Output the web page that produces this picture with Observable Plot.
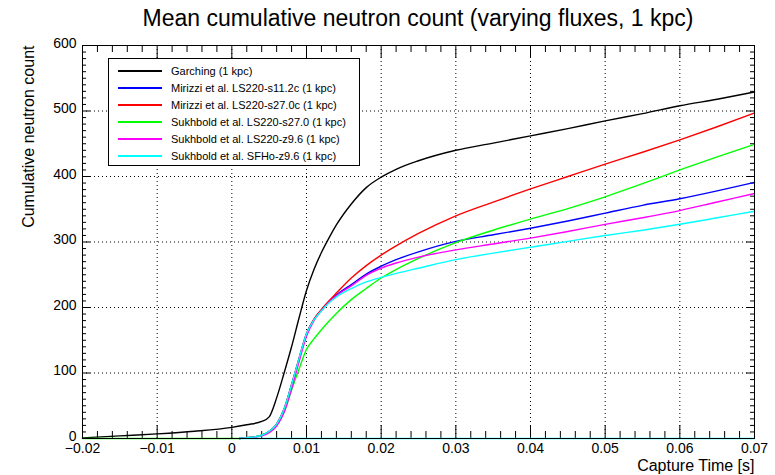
<!DOCTYPE html>
<html>
<head>
<meta charset="utf-8">
<script src="https://cdn.jsdelivr.net/npm/d3@7"></script>
<script src="https://cdn.jsdelivr.net/npm/@observablehq/plot@0.6"></script>
<style>
  body { margin: 0; background: #fff; font-family: "Liberation Sans", Arial, sans-serif; }
  #wrap { position: relative; width: 775px; height: 475px; background: #fff; }
  #title { height: 38px; position: relative; }
  #title span { position: absolute; left: 418px; top: 5px; transform: translateX(-50%); white-space: nowrap; font-size: 23px; line-height: 26px; color: #000; }
  #legend { position: absolute; left: 108px; top: 58px; width: 250px; height: 103px; border: 1px solid #000; background: #fff; padding-top: 3px; box-sizing: content-box; }
  .row { height: 17px; display: flex; align-items: center; font-size: 11px; color: #000; white-space: nowrap; }
  .sw { flex: none; width: 44px; height: 2px; margin-left: 9px; margin-right: 9px; }
</style>
</head>
<body>
<div id="wrap">
  <div id="title"><span>Mean cumulative neutron count (varying fluxes, 1 kpc)</span></div>
  <div id="chart"></div>
  <div id="legend"></div>
</div>
<script>
// ---- data ----
const seriesNames = [
  "Garching (1 kpc)",
  "Mirizzi et al. LS220-s11.2c (1 kpc)",
  "Mirizzi et al. LS220-s27.0c (1 kpc)",
  "Sukhbold et al. LS220-s27.0 (1 kpc)",
  "Sukhbold et al. LS220-z9.6 (1 kpc)",
  "Sukhbold et al. SFHo-z9.6 (1 kpc)"
];

// Garching sample times [s] and counts
const garchingTime = [-0.02, -0.015, -0.01, -0.005, 0, 0.002, 0.004, 0.005, 0.006, 0.007, 0.008, 0.009, 0.010, 0.011, 0.012, 0.013, 0.014, 0.016, 0.018, 0.020, 0.022, 0.025, 0.030, 0.035, 0.040, 0.045, 0.050, 0.055, 0.060, 0.065, 0.070];
const garchingCount = [1, 4, 7, 11, 17, 21, 26, 33, 62, 100, 140, 184, 226, 258, 284, 306, 326, 358, 383, 399, 411, 424, 440, 451, 462, 473, 485, 496, 508, 518, 529];

// shared sample times for the other models
const modelTime = [0.001, 0.002, 0.004, 0.005, 0.006, 0.007, 0.008, 0.009, 0.010, 0.011, 0.012, 0.013, 0.014, 0.016, 0.018, 0.020, 0.022, 0.025, 0.030, 0.035, 0.040, 0.045, 0.050, 0.055, 0.060, 0.065, 0.070];
const mirizziS112Count = [0, 1, 5, 11, 22, 45, 82, 122, 160, 182, 196, 209, 219, 235, 251, 263, 273, 285, 301, 311, 321, 332, 344, 356, 366, 378, 391];
const mirizziS270Count = [0, 1, 5, 11, 22, 45, 82, 122, 160, 182, 197, 210, 222, 245, 264, 280, 294, 313, 340, 361, 381, 400, 419, 437, 456, 476, 497];
const sukhboldS270Count = [0, 1, 5, 11, 20, 40, 74, 106, 136, 152, 166, 179, 191, 212, 229, 245, 258, 275, 299, 318, 335, 351, 369, 389, 410, 430, 449];
const sukhboldZ96Count = [0, 1, 4, 9, 19, 40, 76, 117, 156, 180, 195, 208, 218, 233, 249, 260, 268, 277, 288, 297, 306, 316, 327, 337, 348, 361, 374];
const sukhboldSFHoCount = [0, 1, 5, 11, 22, 45, 82, 122, 160, 181, 195, 207, 216, 229, 239, 246, 252, 260, 273, 283, 292, 301, 310, 318, 327, 337, 347];

// zero-count stretches drawn along the x axis
const sukhboldS270ZeroTime = [-0.02, 0.001];
const sukhboldSFHoZeroTime = [0.001, 0.07];

// axis ticks and labels
const xMajor = [-0.02, -0.01, 0, 0.01, 0.02, 0.03, 0.04, 0.05, 0.06, 0.07];
const xTickLabels = ["\u22120.02", "\u22120.01", "0", "0.01", "0.02", "0.03", "0.04", "0.05", "0.06", "0.07"];
const xMinor = d3.range(-20, 71, 2).filter(v => v % 10 !== 0).map(v => v / 1000);
const yMajor = [0, 100, 200, 300, 400, 500, 600];
const yTickLabels = ["0", "100", "200", "300", "400", "500", "600"];
const yMinor = d3.range(0, 601, 10).filter(v => v % 100 !== 0);
const xLabel = "Capture Time [s]";
const yLabel = "Cumulative neutron count";

// ---- styles ----
const colors = ["#000000", "#0000ff", "#ff0000", "#00ff00", "#ff00ff", "#00ffff"];

const series = [
  {name: seriesNames[0], t: garchingTime, v: garchingCount},
  {name: seriesNames[1], t: modelTime, v: mirizziS112Count},
  {name: seriesNames[2], t: modelTime, v: mirizziS270Count},
  {name: seriesNames[3], t: modelTime, v: sukhboldS270Count},
  {name: seriesNames[4], t: modelTime, v: sukhboldZ96Count},
  {name: seriesNames[5], t: modelTime, v: sukhboldSFHoCount}
];
const toRows = (s) => s.t.map((t, i) => ({t, v: s.v[i]}));
const zeroRows = (ts) => ts.map(t => ({t, v: 0}));

const W = 775, H = 437, mt = 7, mb = 37, ml = 82, mr = 21;
const fw = W - ml - mr, fh = H - mt - mb;
const xMajLen = 13, xMinLen = 7, yMajLen = 8, yMinLen = 4;

const lineMarks = [];
series.forEach((s, i) => {
  if (i === 3) lineMarks.push(Plot.line(zeroRows(sukhboldS270ZeroTime), {x: "t", y: "v", stroke: colors[3], strokeWidth: 1.5}));
  if (i === 5) lineMarks.push(Plot.line(zeroRows(sukhboldSFHoZeroTime), {x: "t", y: "v", stroke: colors[5], strokeWidth: 1.5}));
  lineMarks.push(Plot.line(toRows(s), {x: "t", y: "v", stroke: colors[i], strokeWidth: 1.4, curve: "monotone-x"}));
});

const chart = Plot.plot({
  width: W, height: H,
  marginTop: mt, marginBottom: mb, marginLeft: ml, marginRight: mr,
  style: {fontFamily: "'Liberation Sans', Arial, sans-serif", fontSize: "14px", color: "#000", background: "#fff", overflow: "visible"},
  x: {type: "linear", domain: [-0.02, 0.07]},
  y: {type: "linear", domain: [0, 600]},
  marks: [
    // dotted grid
    Plot.ruleX(xMajor.slice(1, -1), {x: d => d, stroke: "#000", strokeWidth: 1, strokeDasharray: "1,3"}),
    Plot.ruleY(yMajor.slice(1, -1), {y: d => d, stroke: "#000", strokeWidth: 1, strokeDasharray: "1,3"}),
    // inward ticks on all four sides
    Plot.tickX(xMajor, {x: d => d, insetTop: fh - xMajLen, stroke: "#000"}),
    Plot.tickX(xMinor, {x: d => d, insetTop: fh - xMinLen, stroke: "#000"}),
    Plot.tickX(xMajor, {x: d => d, insetBottom: fh - xMajLen, stroke: "#000"}),
    Plot.tickX(xMinor, {x: d => d, insetBottom: fh - xMinLen, stroke: "#000"}),
    Plot.tickY(yMajor, {y: d => d, insetRight: fw - yMajLen, stroke: "#000"}),
    Plot.tickY(yMinor, {y: d => d, insetRight: fw - yMinLen, stroke: "#000"}),
    Plot.tickY(yMajor, {y: d => d, insetLeft: fw - yMajLen, stroke: "#000"}),
    Plot.tickY(yMinor, {y: d => d, insetLeft: fw - yMinLen, stroke: "#000"}),
    // tick labels
    Plot.axisX(xMajor, {tickSize: 0, tickPadding: 5, label: null, tickFormat: d => xTickLabels[xMajor.indexOf(d)], fontSize: 14}),
    Plot.axisY(yMajor, {tickSize: 0, tickPadding: 6, dy: -2, label: null, tickFormat: d => yTickLabels[yMajor.indexOf(d)], fontSize: 14}),
    // axis titles
    Plot.text([xLabel], {text: d => d, frameAnchor: "bottom-right", textAnchor: "end", lineAnchor: "middle", dy: 27, fontSize: 16, fill: "#000"}),
    Plot.text([yLabel], {text: d => d, frameAnchor: "top-left", textAnchor: "end", lineAnchor: "middle", rotate: -90, dx: -54, fontSize: 16, fill: "#000"}),
    // curves
    ...lineMarks,
    Plot.frame({stroke: "#000", strokeWidth: 1})
  ]
});
document.getElementById("chart").appendChild(chart);

// legend
const legend = document.getElementById("legend");
seriesNames.forEach((name, i) => {
  const row = document.createElement("div");
  row.className = "row";
  const sw = document.createElement("span");
  sw.className = "sw";
  sw.style.background = colors[i];
  const tx = document.createElement("span");
  tx.textContent = name;
  row.appendChild(sw);
  row.appendChild(tx);
  legend.appendChild(row);
});
</script>
</body>
</html>
